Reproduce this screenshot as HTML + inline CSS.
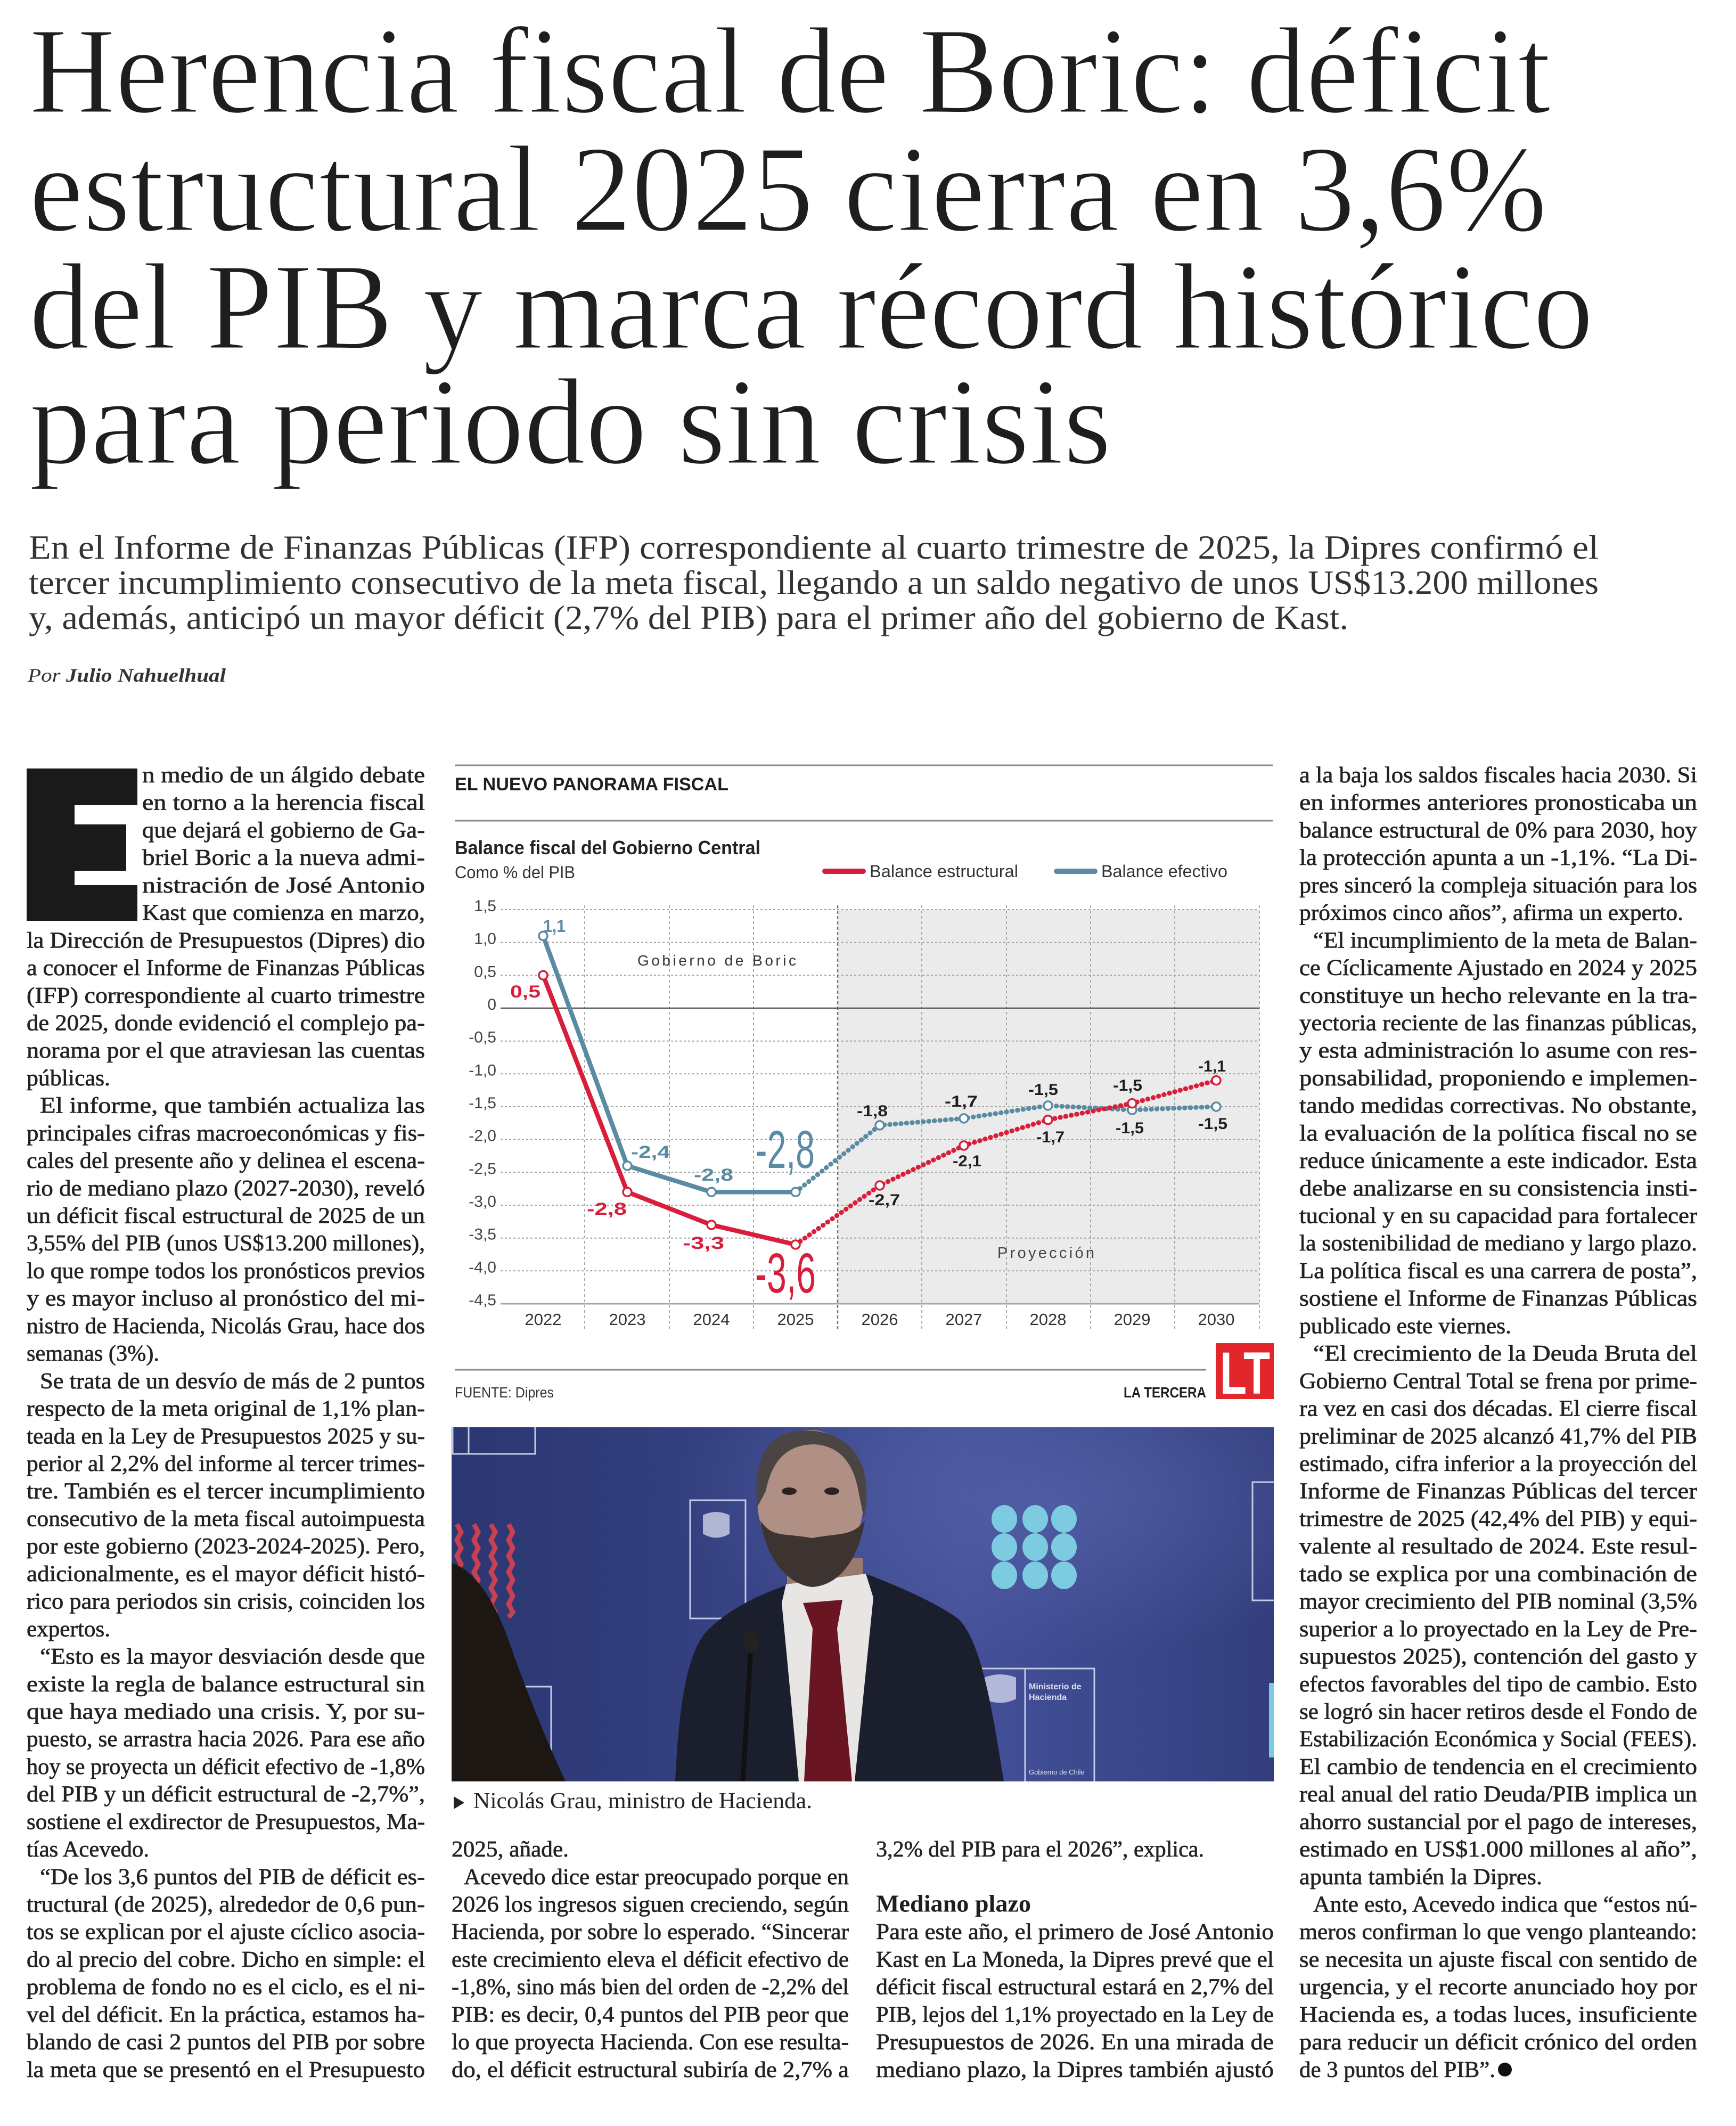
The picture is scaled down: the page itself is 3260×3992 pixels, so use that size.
<!DOCTYPE html>
<html lang="es">
<head>
<meta charset="utf-8">
<title>Herencia fiscal de Boric</title>
<style>
html,body{margin:0;padding:0;background:#fff;}
svg{display:block;}
.b{font-family:"Liberation Serif",serif;font-size:42px;fill:#222;stroke:#222;stroke-width:0.7px;}
.h{font-family:"Liberation Serif",serif;font-size:232px;fill:#1e1e1e;stroke:#fff;stroke-width:3px;}
.s{font-family:"Liberation Serif",serif;font-size:63px;fill:#333;}
.c{font-family:"Liberation Sans",sans-serif;}
</style>
</head>
<body>
<svg width="3260" height="3992" viewBox="0 0 3260 3992" xmlns="http://www.w3.org/2000/svg">
<rect x="0" y="0" width="3260" height="3992" fill="#fff"/>

<!-- HEADLINE -->
<text class="h" x="55" y="211" textLength="2857" lengthAdjust="spacingAndGlyphs">Herencia fiscal de Boric: déficit</text>
<text class="h" x="55" y="433" textLength="2850" lengthAdjust="spacingAndGlyphs">estructural 2025 cierra en 3,6%</text>
<text class="h" x="55" y="654" textLength="2937" lengthAdjust="spacingAndGlyphs">del PIB y marca récord histórico</text>
<text class="h" x="55" y="870" textLength="2032" lengthAdjust="spacingAndGlyphs">para periodo sin crisis</text>

<!-- SUBTITLE -->
<text class="s" x="54" y="1049" textLength="2948" lengthAdjust="spacingAndGlyphs">En el Informe de Finanzas Públicas (IFP) correspondiente al cuarto trimestre de 2025, la Dipres confirmó el</text>
<text class="s" x="54" y="1115" textLength="2948" lengthAdjust="spacingAndGlyphs">tercer incumplimiento consecutivo de la meta fiscal, llegando a un saldo negativo de unos US$13.200 millones</text>
<text class="s" x="54" y="1181" textLength="2478" lengthAdjust="spacingAndGlyphs">y, además, anticipó un mayor déficit (2,7% del PIB) para el primer año del gobierno de Kast.</text>

<!-- BYLINE -->
<text x="52" y="1280" font-family="Liberation Serif, serif" font-size="36" font-style="italic" fill="#333" textLength="372" lengthAdjust="spacingAndGlyphs">Por <tspan font-weight="bold">Julio Nahuelhual</tspan></text>

<!-- DROP CAP E -->
<polygon points="50,1443 258,1443 258,1512 140,1512 140,1548 237,1548 237,1635 140,1635 140,1662 258,1662 258,1729 50,1729" fill="#1a1a1a"/>

<!-- COLUMN 1 -->
<text class="b" x="267" y="1469.0" textLength="531" lengthAdjust="spacingAndGlyphs">n medio de un álgido debate</text>
<text class="b" x="267" y="1520.7" textLength="531" lengthAdjust="spacingAndGlyphs">en torno a la herencia fiscal</text>
<text class="b" x="267" y="1572.4" textLength="531" lengthAdjust="spacingAndGlyphs">que dejará el gobierno de Ga-</text>
<text class="b" x="267" y="1624.2" textLength="531" lengthAdjust="spacingAndGlyphs">briel Boric a la nueva admi-</text>
<text class="b" x="267" y="1675.9" textLength="531" lengthAdjust="spacingAndGlyphs">nistración de José Antonio</text>
<text class="b" x="267" y="1727.6" textLength="531" lengthAdjust="spacingAndGlyphs">Kast que comienza en marzo,</text>
<text class="b" x="50" y="1779.3" textLength="748" lengthAdjust="spacingAndGlyphs">la Dirección de Presupuestos (Dipres) dio</text>
<text class="b" x="50" y="1831.0" textLength="748" lengthAdjust="spacingAndGlyphs">a conocer el Informe de Finanzas Públicas</text>
<text class="b" x="50" y="1882.8" textLength="748" lengthAdjust="spacingAndGlyphs">(IFP) correspondiente al cuarto trimestre</text>
<text class="b" x="50" y="1934.5" textLength="748" lengthAdjust="spacingAndGlyphs">de 2025, donde evidenció el complejo pa-</text>
<text class="b" x="50" y="1986.2" textLength="748" lengthAdjust="spacingAndGlyphs">norama por el que atraviesan las cuentas</text>
<text class="b" x="50" y="2037.9" textLength="157" lengthAdjust="spacingAndGlyphs">públicas.</text>
<text class="b" x="75" y="2089.6" textLength="723" lengthAdjust="spacingAndGlyphs">El informe, que también actualiza las</text>
<text class="b" x="50" y="2141.4" textLength="748" lengthAdjust="spacingAndGlyphs">principales cifras macroeconómicas y fis-</text>
<text class="b" x="50" y="2193.1" textLength="748" lengthAdjust="spacingAndGlyphs">cales del presente año y delinea el escena-</text>
<text class="b" x="50" y="2244.8" textLength="748" lengthAdjust="spacingAndGlyphs">rio de mediano plazo (2027-2030), reveló</text>
<text class="b" x="50" y="2296.5" textLength="748" lengthAdjust="spacingAndGlyphs">un déficit fiscal estructural de 2025 de un</text>
<text class="b" x="50" y="2348.2" textLength="748" lengthAdjust="spacingAndGlyphs">3,55% del PIB (unos US$13.200 millones),</text>
<text class="b" x="50" y="2400.0" textLength="748" lengthAdjust="spacingAndGlyphs">lo que rompe todos los pronósticos previos</text>
<text class="b" x="50" y="2451.7" textLength="748" lengthAdjust="spacingAndGlyphs">y es mayor incluso al pronóstico del mi-</text>
<text class="b" x="50" y="2503.4" textLength="748" lengthAdjust="spacingAndGlyphs">nistro de Hacienda, Nicolás Grau, hace dos</text>
<text class="b" x="50" y="2555.1" textLength="249" lengthAdjust="spacingAndGlyphs">semanas (3%).</text>
<text class="b" x="75" y="2606.8" textLength="723" lengthAdjust="spacingAndGlyphs">Se trata de un desvío de más de 2 puntos</text>
<text class="b" x="50" y="2658.6" textLength="748" lengthAdjust="spacingAndGlyphs">respecto de la meta original de 1,1% plan-</text>
<text class="b" x="50" y="2710.3" textLength="748" lengthAdjust="spacingAndGlyphs">teada en la Ley de Presupuestos 2025 y su-</text>
<text class="b" x="50" y="2762.0" textLength="748" lengthAdjust="spacingAndGlyphs">perior al 2,2% del informe al tercer trimes-</text>
<text class="b" x="50" y="2813.7" textLength="748" lengthAdjust="spacingAndGlyphs">tre. También es el tercer incumplimiento</text>
<text class="b" x="50" y="2865.4" textLength="748" lengthAdjust="spacingAndGlyphs">consecutivo de la meta fiscal autoimpuesta</text>
<text class="b" x="50" y="2917.2" textLength="748" lengthAdjust="spacingAndGlyphs">por este gobierno (2023-2024-2025). Pero,</text>
<text class="b" x="50" y="2968.9" textLength="748" lengthAdjust="spacingAndGlyphs">adicionalmente, es el mayor déficit histó-</text>
<text class="b" x="50" y="3020.6" textLength="748" lengthAdjust="spacingAndGlyphs">rico para periodos sin crisis, coinciden los</text>
<text class="b" x="50" y="3072.3" textLength="157" lengthAdjust="spacingAndGlyphs">expertos.</text>
<text class="b" x="75" y="3124.0" textLength="723" lengthAdjust="spacingAndGlyphs">“Esto es la mayor desviación desde que</text>
<text class="b" x="50" y="3175.8" textLength="748" lengthAdjust="spacingAndGlyphs">existe la regla de balance estructural sin</text>
<text class="b" x="50" y="3227.5" textLength="748" lengthAdjust="spacingAndGlyphs">que haya mediado una crisis. Y, por su-</text>
<text class="b" x="50" y="3279.2" textLength="748" lengthAdjust="spacingAndGlyphs">puesto, se arrastra hacia 2026. Para ese año</text>
<text class="b" x="50" y="3330.9" textLength="748" lengthAdjust="spacingAndGlyphs">hoy se proyecta un déficit efectivo de -1,8%</text>
<text class="b" x="50" y="3382.6" textLength="748" lengthAdjust="spacingAndGlyphs">del PIB y un déficit estructural de -2,7%”,</text>
<text class="b" x="50" y="3434.4" textLength="748" lengthAdjust="spacingAndGlyphs">sostiene el exdirector de Presupuestos, Ma-</text>
<text class="b" x="50" y="3486.1" textLength="230" lengthAdjust="spacingAndGlyphs">tías Acevedo.</text>
<text class="b" x="75" y="3537.8" textLength="723" lengthAdjust="spacingAndGlyphs">“De los 3,6 puntos del PIB de déficit es-</text>
<text class="b" x="50" y="3589.5" textLength="748" lengthAdjust="spacingAndGlyphs">tructural (de 2025), alrededor de 0,6 pun-</text>
<text class="b" x="50" y="3641.2" textLength="748" lengthAdjust="spacingAndGlyphs">tos se explican por el ajuste cíclico asocia-</text>
<text class="b" x="50" y="3693.0" textLength="748" lengthAdjust="spacingAndGlyphs">do al precio del cobre. Dicho en simple: el</text>
<text class="b" x="50" y="3744.7" textLength="748" lengthAdjust="spacingAndGlyphs">problema de fondo no es el ciclo, es el ni-</text>
<text class="b" x="50" y="3796.4" textLength="748" lengthAdjust="spacingAndGlyphs">vel del déficit. En la práctica, estamos ha-</text>
<text class="b" x="50" y="3848.1" textLength="748" lengthAdjust="spacingAndGlyphs">blando de casi 2 puntos del PIB por sobre</text>
<text class="b" x="50" y="3899.8" textLength="748" lengthAdjust="spacingAndGlyphs">la meta que se presentó en el Presupuesto</text>

<!-- CHART -->
<g class="c">
  <line x1="854" y1="1437" x2="2390" y2="1437" stroke="#8a8a8a" stroke-width="3"/>
  <text x="854" y="1484" font-size="34" font-weight="bold" fill="#1e1e1e" textLength="514" lengthAdjust="spacingAndGlyphs">EL NUEVO PANORAMA FISCAL</text>
  <line x1="854" y1="1541" x2="2390" y2="1541" stroke="#8a8a8a" stroke-width="3"/>
  <text x="854" y="1604" font-size="36" font-weight="bold" fill="#222" textLength="574" lengthAdjust="spacingAndGlyphs">Balance fiscal del Gobierno Central</text>
  <text x="854" y="1649" font-size="32" fill="#333" textLength="226" lengthAdjust="spacingAndGlyphs">Como % del PIB</text>
  <line x1="1549" y1="1636" x2="1621" y2="1636" stroke="#d81e3a" stroke-width="10" stroke-linecap="round"/>
  <text x="1633" y="1647" font-size="32" fill="#333" textLength="279" lengthAdjust="spacingAndGlyphs">Balance estructural</text>
  <line x1="1984" y1="1636" x2="2056" y2="1636" stroke="#5a8ba3" stroke-width="10" stroke-linecap="round"/>
  <text x="2068" y="1647" font-size="32" fill="#333" textLength="237" lengthAdjust="spacingAndGlyphs">Balance efectivo</text>

  <!-- projection shading -->
  <rect x="1573" y="1708" width="792" height="740" fill="#ebebeb"/>

  <!-- horizontal gridlines -->
  <g stroke="#a3a3a3" stroke-width="2" stroke-dasharray="4 4">
    <line x1="940" y1="1708" x2="2365" y2="1708"/>
    <line x1="940" y1="1769.7" x2="2365" y2="1769.7"/>
    <line x1="940" y1="1831.3" x2="2365" y2="1831.3"/>
    <line x1="940" y1="1954.7" x2="2365" y2="1954.7"/>
    <line x1="940" y1="2016.3" x2="2365" y2="2016.3"/>
    <line x1="940" y1="2078" x2="2365" y2="2078"/>
    <line x1="940" y1="2139.7" x2="2365" y2="2139.7"/>
    <line x1="940" y1="2201.3" x2="2365" y2="2201.3"/>
    <line x1="940" y1="2263" x2="2365" y2="2263"/>
    <line x1="940" y1="2324.7" x2="2365" y2="2324.7"/>
    <line x1="940" y1="2386.3" x2="2365" y2="2386.3"/>
  </g>
  <!-- vertical gridlines -->
  <g stroke="#a8a8a8" stroke-width="2" stroke-dasharray="5 5">
    <line x1="1098" y1="1700" x2="1098" y2="2497"/>
    <line x1="1257" y1="1700" x2="1257" y2="2497"/>
    <line x1="1415" y1="1700" x2="1415" y2="2497"/>
    <line x1="1731" y1="1700" x2="1731" y2="2497"/>
    <line x1="1890" y1="1700" x2="1890" y2="2497"/>
    <line x1="2048" y1="1700" x2="2048" y2="2497"/>
    <line x1="2206" y1="1700" x2="2206" y2="2497"/>
    <line x1="2365" y1="1700" x2="2365" y2="2497"/>
  </g>
  <line x1="1573" y1="1700" x2="1573" y2="2497" stroke="#777" stroke-width="2.5" stroke-dasharray="6 4"/>
  <line x1="940" y1="1893" x2="2365" y2="1893" stroke="#555" stroke-width="2.5"/>
  <line x1="940" y1="2448" x2="2365" y2="2448" stroke="#a8a8a8" stroke-width="3"/>

  <!-- y labels -->
  <g font-size="30" fill="#444" text-anchor="end">
    <text x="932" y="1711">1,5</text>
    <text x="932" y="1772.7">1,0</text>
    <text x="932" y="1834.3">0,5</text>
    <text x="932" y="1896">0</text>
    <text x="932" y="1957.7">-0,5</text>
    <text x="932" y="2019.3">-1,0</text>
    <text x="932" y="2081">-1,5</text>
    <text x="932" y="2142.7">-2,0</text>
    <text x="932" y="2204.3">-2,5</text>
    <text x="932" y="2266">-3,0</text>
    <text x="932" y="2327.7">-3,5</text>
    <text x="932" y="2389.3">-4,0</text>
    <text x="932" y="2451">-4,5</text>
  </g>
  <!-- x labels -->
  <g font-size="31" fill="#333" text-anchor="middle">
    <text x="1020" y="2488">2022</text>
    <text x="1178" y="2488">2023</text>
    <text x="1336" y="2488">2024</text>
    <text x="1494" y="2488">2025</text>
    <text x="1652" y="2488">2026</text>
    <text x="1810" y="2488">2027</text>
    <text x="1968" y="2488">2028</text>
    <text x="2126" y="2488">2029</text>
    <text x="2284" y="2488">2030</text>
  </g>

  <text x="1197" y="1813" font-size="28" fill="#333" textLength="298" lengthAdjust="spacing">Gobierno de Boric</text>
  <text x="1873" y="2362" font-size="29" fill="#444" textLength="182" lengthAdjust="spacing">Proyección</text>

  <!-- blue series -->
  <polyline points="1020,1757.3 1178,2189 1336,2238.3 1494,2238.3" fill="none" stroke="#5a8ba3" stroke-width="8.5" stroke-linejoin="round"/>
  <polyline points="1494,2238.3 1652,2113 1810,2100 1968,2076 2126,2084.2 2284,2078" fill="none" stroke="#5a8ba3" stroke-width="9" stroke-dasharray="0.5 10" stroke-linecap="round"/>
  <!-- red series -->
  <polyline points="1020,1831.3 1178,2238.3 1336,2300 1494,2337" fill="none" stroke="#d81e3a" stroke-width="8.5" stroke-linejoin="round"/>
  <polyline points="1494,2337 1652,2226 1810,2151 1968,2102.7 2126,2071.8 2284,2028.7" fill="none" stroke="#d81e3a" stroke-width="9" stroke-dasharray="0.5 10" stroke-linecap="round"/>

  <g fill="#fff" stroke="#5a8ba3" stroke-width="3.5">
    <circle cx="1020" cy="1757.3" r="8"/>
    <circle cx="1178" cy="2189" r="8"/>
    <circle cx="1336" cy="2238.3" r="8"/>
    <circle cx="1494" cy="2238.3" r="8"/>
    <circle cx="1652" cy="2113" r="8"/>
    <circle cx="1810" cy="2100" r="8"/>
    <circle cx="1968" cy="2076" r="8"/>
    <circle cx="2126" cy="2084.2" r="8"/>
    <circle cx="2284" cy="2078" r="8"/>
  </g>
  <g fill="#fff" stroke="#d81e3a" stroke-width="3.5">
    <circle cx="1020" cy="1831.3" r="8"/>
    <circle cx="1178" cy="2238.3" r="8"/>
    <circle cx="1336" cy="2300" r="8"/>
    <circle cx="1494" cy="2337" r="8"/>
    <circle cx="1652" cy="2226" r="8"/>
    <circle cx="1810" cy="2151" r="8"/>
    <circle cx="1968" cy="2102.7" r="8"/>
    <circle cx="2126" cy="2071.8" r="8"/>
    <circle cx="2284" cy="2028.7" r="8"/>
  </g>

  <!-- data labels -->
  <g font-size="32" font-weight="bold">
    <text x="1020" y="1750" fill="#5a8ba3" textLength="42" lengthAdjust="spacingAndGlyphs">1,1</text>
    <text x="1185" y="2174" fill="#5a8ba3" textLength="73" lengthAdjust="spacingAndGlyphs">-2,4</text>
    <text x="1303" y="2217" fill="#5a8ba3" textLength="74" lengthAdjust="spacingAndGlyphs">-2,8</text>
    <text x="958" y="1873" fill="#d81e3a" textLength="57" lengthAdjust="spacingAndGlyphs">0,5</text>
    <text x="1102" y="2281" fill="#d81e3a" textLength="75" lengthAdjust="spacingAndGlyphs">-2,8</text>
    <text x="1282" y="2345" fill="#d81e3a" textLength="78" lengthAdjust="spacingAndGlyphs">-3,3</text>
  </g>
  <g font-size="30" font-weight="bold" fill="#1e1e1e">
    <text x="1609" y="2096" textLength="58" lengthAdjust="spacingAndGlyphs">-1,8</text>
    <text x="1774" y="2078" textLength="62" lengthAdjust="spacingAndGlyphs">-1,7</text>
    <text x="1931" y="2056" textLength="56" lengthAdjust="spacingAndGlyphs">-1,5</text>
    <text x="2090" y="2048" textLength="55" lengthAdjust="spacingAndGlyphs">-1,5</text>
    <text x="2250" y="2012" textLength="52" lengthAdjust="spacingAndGlyphs">-1,1</text>
    <text x="1631" y="2263" textLength="59" lengthAdjust="spacingAndGlyphs">-2,7</text>
    <text x="1789" y="2190" textLength="54" lengthAdjust="spacingAndGlyphs">-2,1</text>
    <text x="1946" y="2145" textLength="53" lengthAdjust="spacingAndGlyphs">-1,7</text>
    <text x="2095" y="2128" textLength="53" lengthAdjust="spacingAndGlyphs">-1,5</text>
    <text x="2250" y="2120" textLength="55" lengthAdjust="spacingAndGlyphs">-1,5</text>
  </g>
  <text x="1419" y="2193" font-size="100" fill="#5a8ba3" textLength="111" lengthAdjust="spacingAndGlyphs">-2,8</text>
  <text x="1418" y="2427" font-size="106" fill="#d81e3a" textLength="114" lengthAdjust="spacingAndGlyphs">-3,6</text>

  <!-- footer -->
  <line x1="854" y1="2572" x2="2265" y2="2572" stroke="#8a8a8a" stroke-width="3"/>
  <text x="854" y="2624" font-size="28" fill="#333" textLength="186" lengthAdjust="spacingAndGlyphs">FUENTE: Dipres</text>
  <text x="2110" y="2624" font-size="28" font-weight="bold" fill="#1e1e1e" textLength="155" lengthAdjust="spacingAndGlyphs">LA TERCERA</text>
  <rect x="2283" y="2522" width="109" height="105" fill="#e3262b"/>
  <text x="2291" y="2617" font-size="112" font-weight="bold" fill="#fff" textLength="94" lengthAdjust="spacingAndGlyphs">LT</text>
</g>

<!-- PHOTO -->
<defs>
  <linearGradient id="bg" x1="0" y1="0" x2="1" y2="0">
    <stop offset="0" stop-color="#2b3672"/>
    <stop offset="0.3" stop-color="#34407f"/>
    <stop offset="0.62" stop-color="#44519a"/>
    <stop offset="0.85" stop-color="#3a4689"/>
    <stop offset="1" stop-color="#323d7c"/>
  </linearGradient>
  <radialGradient id="glow" cx="0.72" cy="0.2" r="0.45">
    <stop offset="0" stop-color="#5a67ad" stop-opacity="0.6"/>
    <stop offset="1" stop-color="#5a67ad" stop-opacity="0"/>
  </radialGradient>
  <clipPath id="pc"><rect x="848" y="2680" width="1544" height="665"/></clipPath>
</defs>
<g clip-path="url(#pc)">
  <rect x="848" y="2680" width="1544" height="665" fill="url(#bg)"/>
  <rect x="848" y="2680" width="1544" height="665" fill="url(#glow)"/>
  <!-- panels -->
  <g fill="none" stroke="#c4c9e4" stroke-width="3">
    <rect x="850" y="2672" width="155" height="58"/>
    <line x1="880" y1="2680" x2="880" y2="2730"/>
    <rect x="1296" y="2817" width="104" height="222"/>
    <rect x="935" y="3167" width="100" height="190"/>
    <rect x="1840" y="3133" width="215" height="230"/>
    <line x1="1925" y1="3133" x2="1925" y2="3345"/>
    <rect x="2352" y="2783" width="50" height="222"/>
  </g>
  <path d="M1320,2845 q25,-12 50,0 v35 q-25,15 -50,0 z" fill="#cfd3ea" opacity="0.8"/>
  <path d="M1848,3150 q30,-12 60,0 v40 q-30,15 -60,0 z" fill="#cfd3ea" opacity="0.8"/>
  <text x="1932" y="3172" font-family="Liberation Sans, sans-serif" font-size="16" font-weight="bold" fill="#dde0f0">Ministerio de</text>
  <text x="1932" y="3192" font-family="Liberation Sans, sans-serif" font-size="16" font-weight="bold" fill="#dde0f0">Hacienda</text>
  <text x="1932" y="3332" font-family="Liberation Sans, sans-serif" font-size="13" fill="#dde0f0">Gobierno de Chile</text>
  <!-- red zigzags -->
  <g fill="none" stroke="#c8414f" stroke-width="9">
    <polyline points="858,2862 866,2877 858,2892 866,2907 858,2922 866,2937 858,2952 866,2967 858,2982 866,2997 858,3012 866,3027 858,3037"/>
    <polyline points="890,2862 898,2877 890,2892 898,2907 890,2922 898,2937 890,2952 898,2967 890,2982 898,2997 890,3012 898,3027 890,3037"/>
    <polyline points="922,2862 930,2877 922,2892 930,2907 922,2922 930,2937 922,2952 930,2967 922,2982 930,2997 922,3012 930,3027 922,3037"/>
    <polyline points="955,2862 963,2877 955,2892 963,2907 955,2922 963,2937 955,2952 963,2967 955,2982 963,2997 955,3012 963,3027 955,3037"/>
  </g>
  <!-- cyan dots -->
  <g fill="#7ccbe0">
    <ellipse cx="1886" cy="2852" rx="24" ry="26"/><ellipse cx="1944" cy="2852" rx="24" ry="26"/><ellipse cx="1998" cy="2852" rx="24" ry="26"/>
    <ellipse cx="1886" cy="2905" rx="24" ry="26"/><ellipse cx="1944" cy="2905" rx="24" ry="26"/><ellipse cx="1998" cy="2905" rx="24" ry="26"/>
    <ellipse cx="1886" cy="2958" rx="24" ry="26"/><ellipse cx="1944" cy="2958" rx="24" ry="26"/><ellipse cx="1998" cy="2958" rx="24" ry="26"/>
  </g>
  <rect x="2383" y="3160" width="12" height="140" fill="#7ccbe0"/>
  <!-- woman hair -->
  <path d="M848,2935 C885,2945 925,2995 955,3080 C985,3165 1020,3255 1062,3345 L848,3345 Z" fill="#1d1714"/>
  <!-- man suit -->
  <path d="M1268,3345 C1275,3200 1290,3100 1330,3060 C1380,3012 1440,2990 1480,2975 L1625,2955 C1680,2975 1760,3010 1800,3040 C1842,3082 1862,3200 1885,3345 Z" fill="#1b1e2c"/>
  <!-- neck -->
  <rect x="1478" y="2925" width="142" height="60" fill="#9a7a6e"/>
  <!-- shirt -->
  <path d="M1476,2975 L1626,2955 L1640,3000 L1605,3345 L1500,3345 L1468,3010 Z" fill="#e8e5e5"/>
  <!-- tie -->
  <path d="M1508,3010 L1582,3004 L1572,3058 L1600,3345 L1510,3345 L1526,3058 Z" fill="#6a1522"/>
  <!-- head -->
  <ellipse cx="1522" cy="2815" rx="100" ry="130" fill="#b09084"/>
  <path d="M1422,2830 C1415,2760 1430,2700 1490,2688 C1540,2680 1600,2695 1622,2760 C1630,2800 1628,2830 1622,2850 L1610,2790 C1600,2745 1575,2715 1530,2712 C1480,2712 1450,2740 1438,2800 Z" fill="#4a4442"/>
  <path d="M1428,2855 C1440,2930 1480,2975 1525,2980 C1575,2977 1612,2930 1624,2855 C1600,2885 1580,2878 1525,2888 C1470,2878 1450,2888 1428,2855 Z" fill="#3d3330"/>
  <ellipse cx="1482" cy="2800" rx="14" ry="7" fill="#2b2220"/>
  <ellipse cx="1562" cy="2800" rx="14" ry="7" fill="#2b2220"/>
  <!-- mic -->
  <line x1="1395" y1="3345" x2="1410" y2="3095" stroke="#111" stroke-width="9"/>
  <ellipse cx="1411" cy="3082" rx="14" ry="22" fill="#222"/>
</g>

<!-- CAPTION -->
<polygon points="852,3373 852,3397 872,3385" fill="#222"/>
<text x="889" y="3395" font-family="Liberation Serif, serif" font-size="42" fill="#222" textLength="636" lengthAdjust="spacingAndGlyphs">Nicolás Grau, ministro de Hacienda.</text>

<!-- COLUMN 2 -->
<text class="b" x="848" y="3486.1" textLength="220" lengthAdjust="spacingAndGlyphs">2025, añade.</text>
<text class="b" x="871" y="3537.8" textLength="723" lengthAdjust="spacingAndGlyphs">Acevedo dice estar preocupado porque en</text>
<text class="b" x="848" y="3589.5" textLength="746" lengthAdjust="spacingAndGlyphs">2026 los ingresos siguen creciendo, según</text>
<text class="b" x="848" y="3641.2" textLength="746" lengthAdjust="spacingAndGlyphs">Hacienda, por sobre lo esperado. “Sincerar</text>
<text class="b" x="848" y="3693.0" textLength="746" lengthAdjust="spacingAndGlyphs">este crecimiento eleva el déficit efectivo de</text>
<text class="b" x="848" y="3744.7" textLength="746" lengthAdjust="spacingAndGlyphs">-1,8%, sino más bien del orden de -2,2% del</text>
<text class="b" x="848" y="3796.4" textLength="746" lengthAdjust="spacingAndGlyphs">PIB: es decir, 0,4 puntos del PIB peor que</text>
<text class="b" x="848" y="3848.1" textLength="746" lengthAdjust="spacingAndGlyphs">lo que proyecta Hacienda. Con ese resulta-</text>
<text class="b" x="848" y="3899.8" textLength="746" lengthAdjust="spacingAndGlyphs">do, el déficit estructural subiría de 2,7% a</text>

<!-- COLUMN 3 -->
<text class="b" x="1645" y="3486.1" textLength="616" lengthAdjust="spacingAndGlyphs">3,2% del PIB para el 2026”, explica.</text>
<text x="1645" y="3589.5" font-family="Liberation Serif, serif" font-size="46" font-weight="bold" fill="#1e1e1e" textLength="291" lengthAdjust="spacingAndGlyphs">Mediano plazo</text>
<text class="b" x="1645" y="3641.2" textLength="747" lengthAdjust="spacingAndGlyphs">Para este año, el primero de José Antonio</text>
<text class="b" x="1645" y="3693.0" textLength="747" lengthAdjust="spacingAndGlyphs">Kast en La Moneda, la Dipres prevé que el</text>
<text class="b" x="1645" y="3744.7" textLength="747" lengthAdjust="spacingAndGlyphs">déficit fiscal estructural estará en 2,7% del</text>
<text class="b" x="1645" y="3796.4" textLength="747" lengthAdjust="spacingAndGlyphs">PIB, lejos del 1,1% proyectado en la Ley de</text>
<text class="b" x="1645" y="3848.1" textLength="747" lengthAdjust="spacingAndGlyphs">Presupuestos de 2026. En una mirada de</text>
<text class="b" x="1645" y="3899.8" textLength="747" lengthAdjust="spacingAndGlyphs">mediano plazo, la Dipres también ajustó</text>

<!-- COLUMN 4 -->
<text class="b" x="2440" y="1469.0" textLength="747" lengthAdjust="spacingAndGlyphs">a la baja los saldos fiscales hacia 2030. Si</text>
<text class="b" x="2440" y="1520.7" textLength="747" lengthAdjust="spacingAndGlyphs">en informes anteriores pronosticaba un</text>
<text class="b" x="2440" y="1572.4" textLength="747" lengthAdjust="spacingAndGlyphs">balance estructural de 0% para 2030, hoy</text>
<text class="b" x="2440" y="1624.2" textLength="747" lengthAdjust="spacingAndGlyphs">la protección apunta a un -1,1%. “La Di-</text>
<text class="b" x="2440" y="1675.9" textLength="747" lengthAdjust="spacingAndGlyphs">pres sinceró la compleja situación para los</text>
<text class="b" x="2440" y="1727.6" textLength="721" lengthAdjust="spacingAndGlyphs">próximos cinco años”, afirma un experto.</text>
<text class="b" x="2466" y="1779.3" textLength="721" lengthAdjust="spacingAndGlyphs">“El incumplimiento de la meta de Balan-</text>
<text class="b" x="2440" y="1831.0" textLength="747" lengthAdjust="spacingAndGlyphs">ce Cíclicamente Ajustado en 2024 y 2025</text>
<text class="b" x="2440" y="1882.8" textLength="747" lengthAdjust="spacingAndGlyphs">constituye un hecho relevante en la tra-</text>
<text class="b" x="2440" y="1934.5" textLength="747" lengthAdjust="spacingAndGlyphs">yectoria reciente de las finanzas públicas,</text>
<text class="b" x="2440" y="1986.2" textLength="747" lengthAdjust="spacingAndGlyphs">y esta administración lo asume con res-</text>
<text class="b" x="2440" y="2037.9" textLength="747" lengthAdjust="spacingAndGlyphs">ponsabilidad, proponiendo e implemen-</text>
<text class="b" x="2440" y="2089.6" textLength="747" lengthAdjust="spacingAndGlyphs">tando medidas correctivas. No obstante,</text>
<text class="b" x="2440" y="2141.4" textLength="747" lengthAdjust="spacingAndGlyphs">la evaluación de la política fiscal no se</text>
<text class="b" x="2440" y="2193.1" textLength="747" lengthAdjust="spacingAndGlyphs">reduce únicamente a este indicador. Esta</text>
<text class="b" x="2440" y="2244.8" textLength="747" lengthAdjust="spacingAndGlyphs">debe analizarse en su consistencia insti-</text>
<text class="b" x="2440" y="2296.5" textLength="747" lengthAdjust="spacingAndGlyphs">tucional y en su capacidad para fortalecer</text>
<text class="b" x="2440" y="2348.2" textLength="747" lengthAdjust="spacingAndGlyphs">la sostenibilidad de mediano y largo plazo.</text>
<text class="b" x="2440" y="2400.0" textLength="747" lengthAdjust="spacingAndGlyphs">La política fiscal es una carrera de posta”,</text>
<text class="b" x="2440" y="2451.7" textLength="747" lengthAdjust="spacingAndGlyphs">sostiene el Informe de Finanzas Públicas</text>
<text class="b" x="2440" y="2503.4" textLength="398" lengthAdjust="spacingAndGlyphs">publicado este viernes.</text>
<text class="b" x="2466" y="2555.1" textLength="721" lengthAdjust="spacingAndGlyphs">“El crecimiento de la Deuda Bruta del</text>
<text class="b" x="2440" y="2606.8" textLength="747" lengthAdjust="spacingAndGlyphs">Gobierno Central Total se frena por prime-</text>
<text class="b" x="2440" y="2658.6" textLength="747" lengthAdjust="spacingAndGlyphs">ra vez en casi dos décadas. El cierre fiscal</text>
<text class="b" x="2440" y="2710.3" textLength="747" lengthAdjust="spacingAndGlyphs">preliminar de 2025 alcanzó 41,7% del PIB</text>
<text class="b" x="2440" y="2762.0" textLength="747" lengthAdjust="spacingAndGlyphs">estimado, cifra inferior a la proyección del</text>
<text class="b" x="2440" y="2813.7" textLength="747" lengthAdjust="spacingAndGlyphs">Informe de Finanzas Públicas del tercer</text>
<text class="b" x="2440" y="2865.4" textLength="747" lengthAdjust="spacingAndGlyphs">trimestre de 2025 (42,4% del PIB) y equi-</text>
<text class="b" x="2440" y="2917.2" textLength="747" lengthAdjust="spacingAndGlyphs">valente al resultado de 2024. Este resul-</text>
<text class="b" x="2440" y="2968.9" textLength="747" lengthAdjust="spacingAndGlyphs">tado se explica por una combinación de</text>
<text class="b" x="2440" y="3020.6" textLength="747" lengthAdjust="spacingAndGlyphs">mayor crecimiento del PIB nominal (3,5%</text>
<text class="b" x="2440" y="3072.3" textLength="747" lengthAdjust="spacingAndGlyphs">superior a lo proyectado en la Ley de Pre-</text>
<text class="b" x="2440" y="3124.0" textLength="747" lengthAdjust="spacingAndGlyphs">supuestos 2025), contención del gasto y</text>
<text class="b" x="2440" y="3175.8" textLength="747" lengthAdjust="spacingAndGlyphs">efectos favorables del tipo de cambio. Esto</text>
<text class="b" x="2440" y="3227.5" textLength="747" lengthAdjust="spacingAndGlyphs">se logró sin hacer retiros desde el Fondo de</text>
<text class="b" x="2440" y="3279.2" textLength="747" lengthAdjust="spacingAndGlyphs">Estabilización Económica y Social (FEES).</text>
<text class="b" x="2440" y="3330.9" textLength="747" lengthAdjust="spacingAndGlyphs">El cambio de tendencia en el crecimiento</text>
<text class="b" x="2440" y="3382.6" textLength="747" lengthAdjust="spacingAndGlyphs">real anual del ratio Deuda/PIB implica un</text>
<text class="b" x="2440" y="3434.4" textLength="747" lengthAdjust="spacingAndGlyphs">ahorro sustancial por el pago de intereses,</text>
<text class="b" x="2440" y="3486.1" textLength="747" lengthAdjust="spacingAndGlyphs">estimado en US$1.000 millones al año”,</text>
<text class="b" x="2440" y="3537.8" textLength="456" lengthAdjust="spacingAndGlyphs">apunta también la Dipres.</text>
<text class="b" x="2466" y="3589.5" textLength="721" lengthAdjust="spacingAndGlyphs">Ante esto, Acevedo indica que “estos nú-</text>
<text class="b" x="2440" y="3641.2" textLength="747" lengthAdjust="spacingAndGlyphs">meros confirman lo que vengo planteando:</text>
<text class="b" x="2440" y="3693.0" textLength="747" lengthAdjust="spacingAndGlyphs">se necesita un ajuste fiscal con sentido de</text>
<text class="b" x="2440" y="3744.7" textLength="747" lengthAdjust="spacingAndGlyphs">urgencia, y el recorte anunciado hoy por</text>
<text class="b" x="2440" y="3796.4" textLength="747" lengthAdjust="spacingAndGlyphs">Hacienda es, a todas luces, insuficiente</text>
<text class="b" x="2440" y="3848.1" textLength="747" lengthAdjust="spacingAndGlyphs">para reducir un déficit crónico del orden</text>
<text class="b" x="2440" y="3899.8" textLength="368" lengthAdjust="spacingAndGlyphs">de 3 puntos del PIB”.</text>
<circle cx="2826" cy="3886" r="13" fill="#111"/>
</svg>
</body>
</html>
